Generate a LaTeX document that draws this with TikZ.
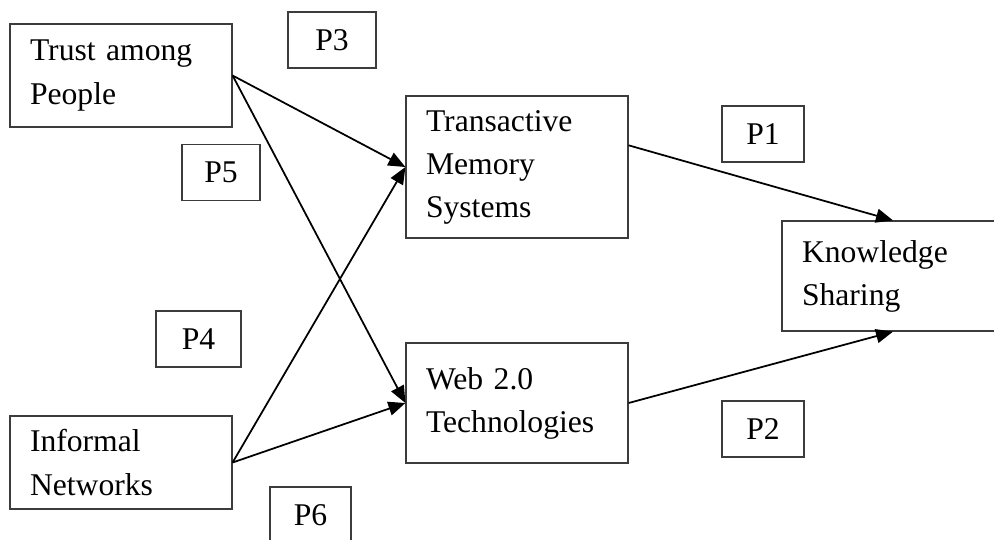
\documentclass[tikz,border=0pt]{standalone}
\usepackage{fontspec}
\setmainfont{Liberation Serif}
\usepackage{tikz}
\usetikzlibrary{arrows.meta,positioning}
\definecolor{boxline}{RGB}{60,60,60}

\begin{document}
\begin{tikzpicture}[x=0.02cm, y=-0.02cm,
    concept/.style={draw=boxline, line width=0.7pt, align=left, inner xsep=0.4cm,
        font=\fontsize{18}{24.5}\selectfont},
    prop/.style={draw=boxline, line width=0.7pt, minimum width=1.64cm, minimum height=1.12cm,
        font=\fontsize{18}{24.5}\selectfont},
    link/.style={line width=1pt, -{Triangle[length=0.34cm, width=0.28cm]}}]
    \useasboundingbox (0,0) rectangle (994,539);
    % constructs
    \node[concept, minimum width=4.44cm, minimum height=2.06cm, text width=3.64cm] (trust) at (121,75.5) {Trust among\\People};
    \node[concept, minimum width=4.44cm, minimum height=1.86cm, text width=3.64cm] (informal) at (121,462.5) {Informal\\Networks};
    \node[concept, minimum width=4.44cm, minimum height=2.84cm, text width=3.64cm] (tms) at (517,167) {Transactive\\Memory\\Systems};
    \node[concept, minimum width=4.44cm, minimum height=2.4cm, text width=3.64cm] (web) at (517,403) {Web 2.0\\Technologies};
    \node[concept, minimum width=4.44cm, minimum height=2.2cm, text width=3.64cm] (ks) at (893,276) {Knowledge\\Sharing};
    % propositions
    \node[prop, minimum width=1.76cm] (p3) at (332,40) {P3};
    \node[prop, minimum width=1.56cm] (p5) at (221,172.5) {P5};
    \node[prop, minimum width=1.7cm] (p4) at (198.5,339) {P4};
    \node[prop] (p1) at (763,134) {P1};
    \node[prop] (p2) at (763,429) {P2};
    \node[prop, minimum width=1.62cm] (p6) at (310.5,515) {P6};
    % paths
    \draw[link] (trust.east) -- (tms.west);
    \draw[link] (trust.east) -- (web.west);
    \draw[link] (informal.east) -- (tms.west);
    \draw[link] (informal.east) -- (web.west);
    \draw[link] (tms.11) -- (ks.north);
    \draw[link] (web.east) -- (ks.south);
\end{tikzpicture}
\end{document}
